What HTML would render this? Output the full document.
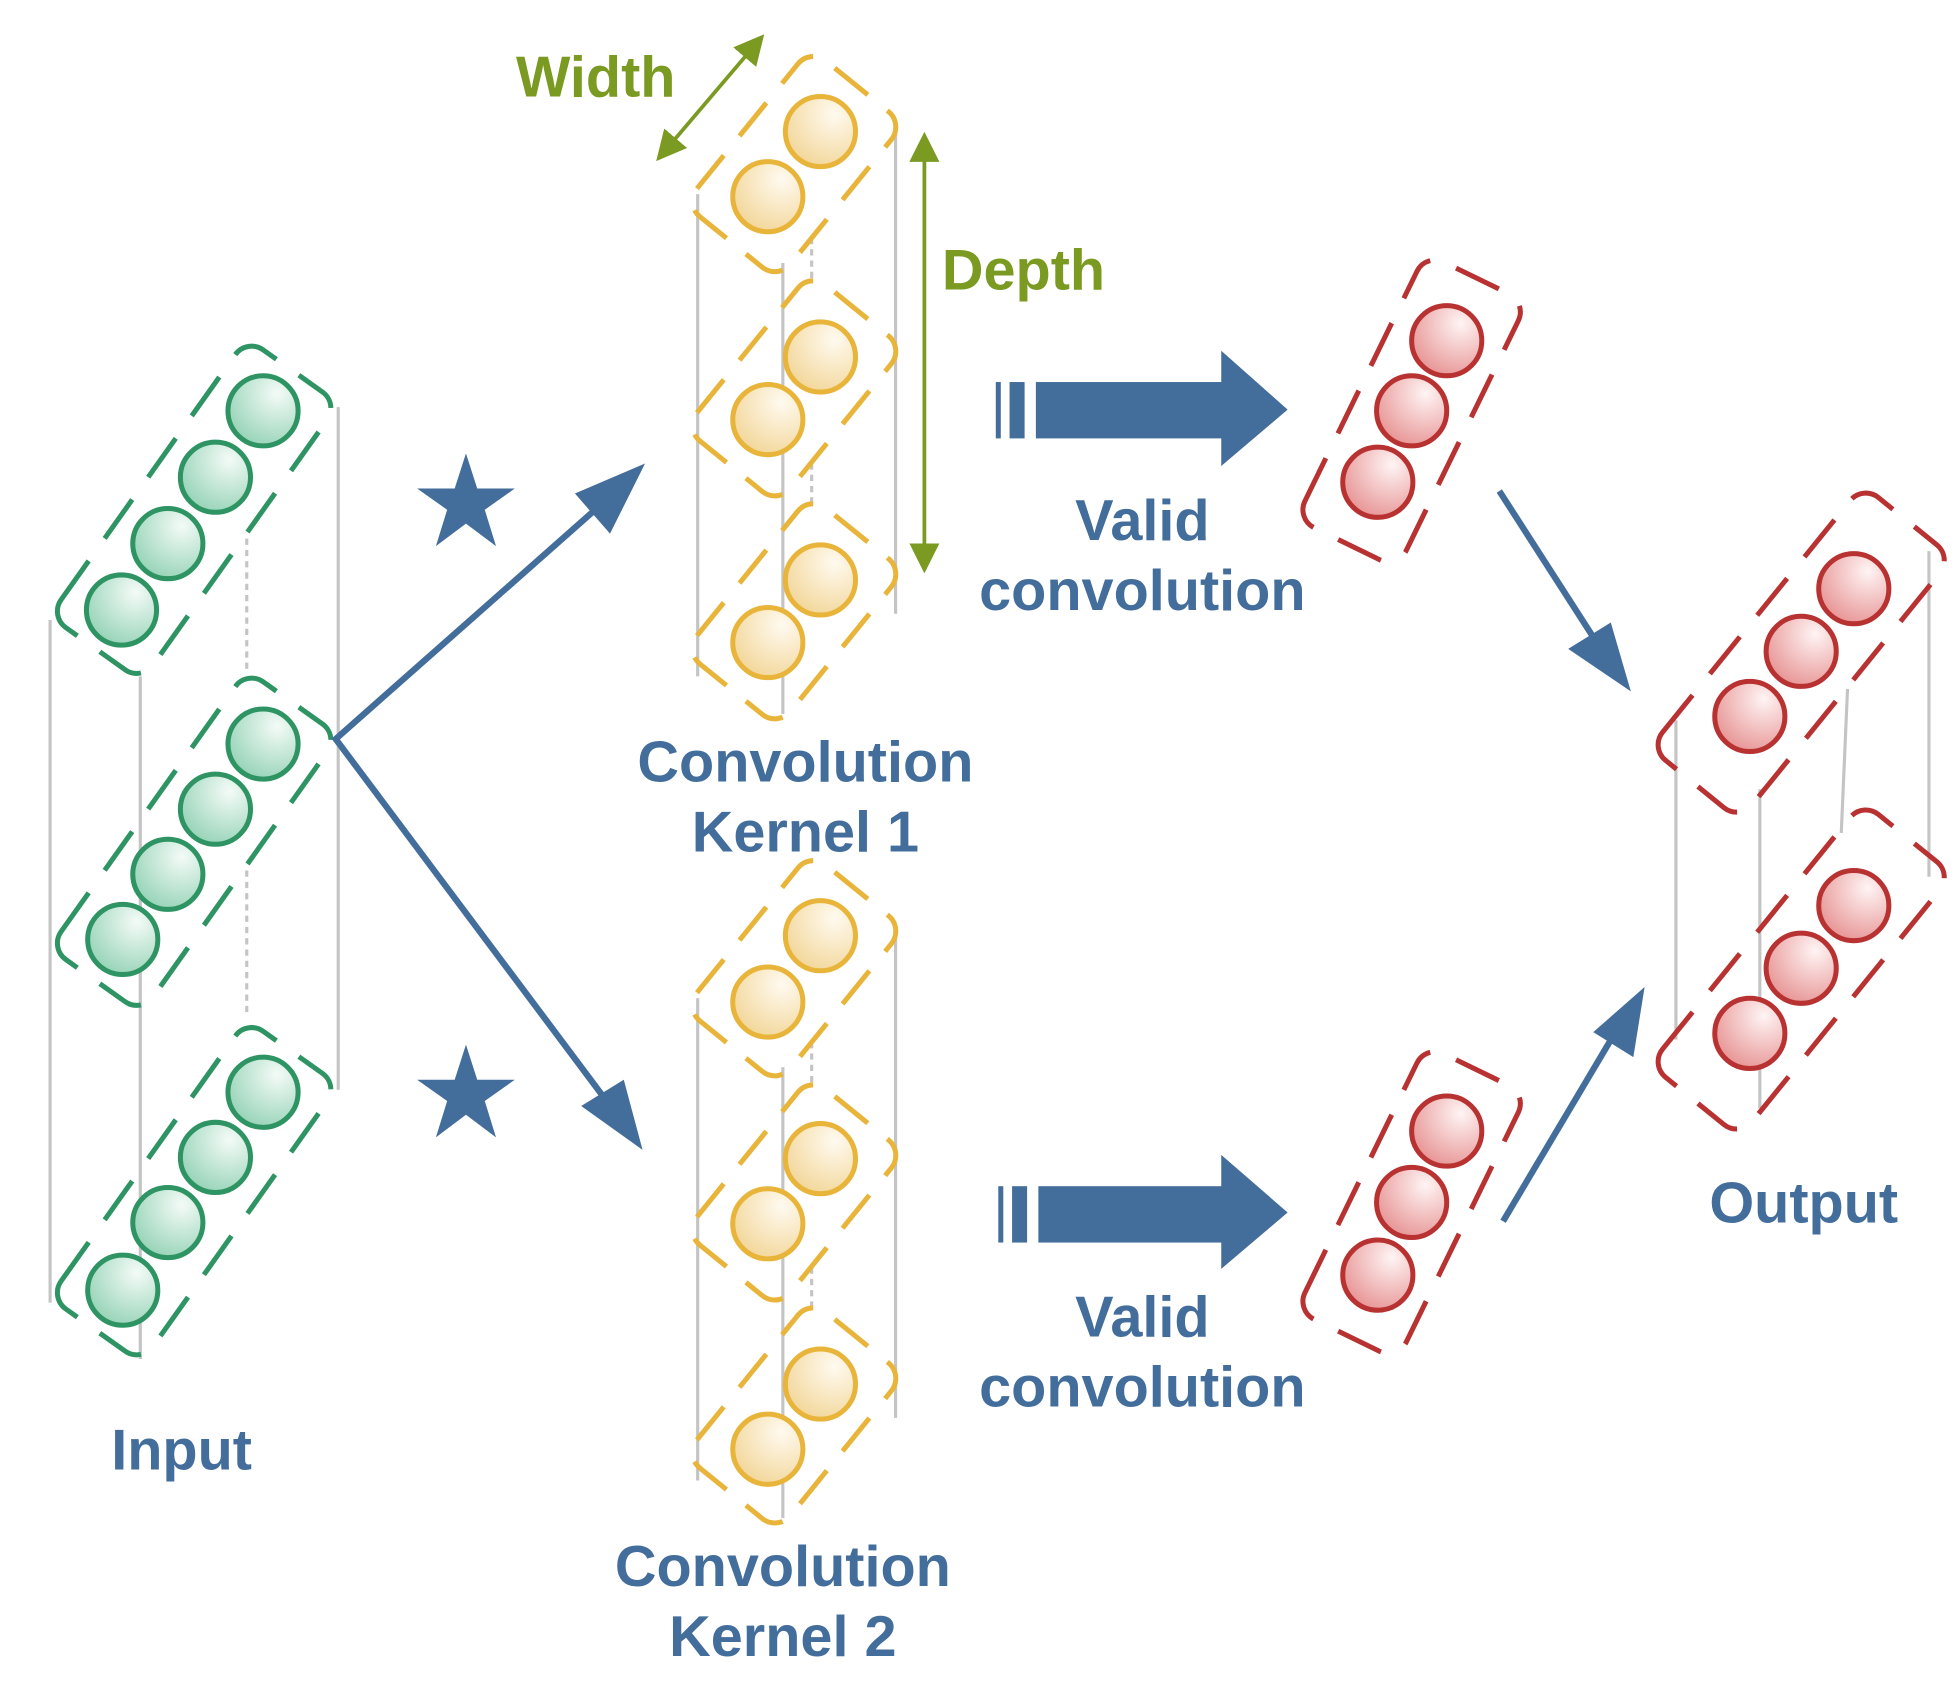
<!DOCTYPE html>
<html><head><meta charset="utf-8"><style>
html,body{margin:0;padding:0;background:#fff;}
svg{display:block;}
text{font-family:"Liberation Sans",sans-serif;font-weight:bold;}
</style></head><body>
<svg width="1954" height="1699" viewBox="0 0 1560 1356.4" preserveAspectRatio="none" xmlns="http://www.w3.org/2000/svg">
<defs>
<radialGradient id="gg" cx="0.7" cy="0.25" r="0.9"><stop offset="0" stop-color="#f4fbf7"/><stop offset="1" stop-color="#8ccfb0"/></radialGradient>
<radialGradient id="yg" cx="0.7" cy="0.25" r="0.9"><stop offset="0" stop-color="#fffaf0"/><stop offset="1" stop-color="#f1d390"/></radialGradient>
<radialGradient id="rg" cx="0.7" cy="0.25" r="0.9"><stop offset="0" stop-color="#fff4f4"/><stop offset="1" stop-color="#e58a8a"/></radialGradient>
<marker id="ag" viewBox="0 0 10 10" refX="8" refY="5" markerWidth="8" markerHeight="8" orient="auto-start-reverse" markerUnits="strokeWidth"><path d="M0,0 L10,5 L0,10 z" fill="#7a9a22"/></marker>
</defs>

<g stroke="#c4c4c4" stroke-width="2.5" fill="none">
<line x1="40" y1="495" x2="40" y2="1040"/><line x1="112" y1="540" x2="112" y2="1085"/><line x1="270" y1="325" x2="270" y2="870"/>
<line x1="197" y1="430" x2="197" y2="535" stroke-dasharray="5,4"/><line x1="197" y1="695" x2="197" y2="810" stroke-dasharray="5,4"/>
<line x1="557" y1="155" x2="557" y2="540"/><line x1="625" y1="210" x2="625" y2="570"/><line x1="715" y1="105" x2="715" y2="490"/>
<line x1="557" y1="797" x2="557" y2="1182"/><line x1="625" y1="852" x2="625" y2="1212"/><line x1="715" y1="747" x2="715" y2="1132"/>
<line x1="648" y1="190" x2="648" y2="225" stroke-dasharray="5,4"/><line x1="648" y1="370" x2="648" y2="405" stroke-dasharray="5,4"/>
<line x1="648" y1="832" x2="648" y2="867" stroke-dasharray="5,4"/><line x1="648" y1="1012" x2="648" y2="1047" stroke-dasharray="5,4"/>
<line x1="1338" y1="575" x2="1338" y2="830"/><line x1="1405" y1="630" x2="1405" y2="885"/><line x1="1475" y1="550" x2="1470" y2="665"/><line x1="1540" y1="440" x2="1540" y2="700"/>
</g>

<g stroke="#2e9463" stroke-width="4">
<g fill="none" stroke-dasharray="38,22">
<rect x="-136" y="-45" width="272" height="90" rx="16" transform="translate(155,407) rotate(-54.6)"/>
<rect x="-136" y="-45" width="272" height="90" rx="16" transform="translate(155,672) rotate(-54.6)"/>
<rect x="-136" y="-45" width="272" height="90" rx="16" transform="translate(155,951) rotate(-54.6)"/>
</g>
<g fill="url(#gg)">
<circle cx="210" cy="328" r="28"/><circle cx="172" cy="381" r="28"/><circle cx="134" cy="434" r="28"/><circle cx="97" cy="487" r="28"/>
<circle cx="210" cy="594" r="28"/><circle cx="172" cy="646" r="28"/><circle cx="134" cy="698" r="28"/><circle cx="98" cy="750" r="28"/>
<circle cx="210" cy="872" r="28"/><circle cx="172" cy="924" r="28"/><circle cx="134" cy="976" r="28"/><circle cx="98" cy="1030" r="28"/>
</g></g>

<g stroke="#e8b53a" stroke-width="4">
<g fill="none" stroke-dasharray="34,20">
<rect x="-80" y="-48" width="160" height="96" rx="16" transform="translate(634,131) rotate(-51)"/>
<rect x="-80" y="-48" width="160" height="96" rx="16" transform="translate(634,310) rotate(-51)"/>
<rect x="-80" y="-48" width="160" height="96" rx="16" transform="translate(634,488) rotate(-51)"/>
<rect x="-80" y="-48" width="160" height="96" rx="16" transform="translate(634,773) rotate(-51)"/>
<rect x="-80" y="-48" width="160" height="96" rx="16" transform="translate(634,952) rotate(-51)"/>
<rect x="-80" y="-48" width="160" height="96" rx="16" transform="translate(634,1130) rotate(-51)"/>
</g>
<g fill="url(#yg)">
<circle cx="655" cy="105" r="28"/><circle cx="613" cy="157" r="28"/>
<circle cx="655" cy="285" r="28"/><circle cx="613" cy="335" r="28"/>
<circle cx="655" cy="463" r="28"/><circle cx="613" cy="513" r="28"/>
<circle cx="655" cy="747" r="28"/><circle cx="613" cy="800" r="28"/>
<circle cx="655" cy="925" r="28"/><circle cx="613" cy="977" r="28"/>
<circle cx="655" cy="1105" r="28"/><circle cx="613" cy="1157" r="28"/>
</g></g>

<g stroke="#b83232" stroke-width="4">
<g fill="none" stroke-dasharray="38,22">
<rect x="-118" y="-45" width="236" height="90" rx="16" transform="translate(1127,328) rotate(-64)"/>
<rect x="-118" y="-45" width="236" height="90" rx="16" transform="translate(1127,960) rotate(-64)"/>
<rect x="-135" y="-46" width="270" height="92" rx="16" transform="translate(1438,521) rotate(-51)"/>
<rect x="-135" y="-46" width="270" height="92" rx="16" transform="translate(1438,774) rotate(-51)"/>
</g>
<g fill="url(#rg)">
<circle cx="1155" cy="272" r="28"/><circle cx="1127" cy="328" r="28"/><circle cx="1100" cy="385" r="28"/>
<circle cx="1155" cy="903" r="28"/><circle cx="1127" cy="960" r="28"/><circle cx="1100" cy="1018" r="28"/>
<circle cx="1480" cy="470" r="28"/><circle cx="1438" cy="520" r="28"/><circle cx="1397" cy="572" r="28"/>
<circle cx="1480" cy="723" r="28"/><circle cx="1438" cy="773" r="28"/><circle cx="1397" cy="825" r="28"/>
</g></g>

<g stroke="#7a9a22" stroke-width="3">
<line x1="527" y1="125" x2="607" y2="31" marker-start="url(#ag)" marker-end="url(#ag)"/>
<line x1="738" y1="110" x2="738" y2="453" marker-start="url(#ag)" marker-end="url(#ag)"/>
</g>
<text x="412" y="77" font-size="46" fill="#7a9a22">Width</text>
<text x="752" y="231" font-size="46" fill="#7a9a22">Depth</text>

<g stroke="#436d9b" stroke-width="5" fill="none">
<polyline points="500,385 268,590 500,900"/>
</g>
<path d="M515,370 L487,426 L459,394 z" fill="#436d9b"/>
<path d="M513,918 L464,883 L498,862 z" fill="#436d9b"/>
<line x1="1197" y1="392" x2="1287" y2="532" stroke="#436d9b" stroke-width="5"/>
<path d="M1302,552 L1252,518 L1286,497 z" fill="#436d9b"/>
<line x1="1200" y1="975" x2="1298" y2="810" stroke="#436d9b" stroke-width="5"/>
<path d="M1313,788 L1304,844 L1272,824 z" fill="#436d9b"/>

<g fill="#436d9b">
<path d="M372,362 L381,390 L411,390 L387,407 L396,436 L372,418 L348,436 L357,407 L333,390 L363,390 z"/>
<path d="M372,834 L381,862 L411,862 L387,879 L396,908 L372,890 L348,908 L357,879 L333,862 L363,862 z"/>
</g>

<g fill="#436d9b">
<rect x="795" y="305" width="4" height="45"/><rect x="806" y="305" width="12" height="45"/><rect x="827" y="305" width="150" height="45"/>
<path d="M975,280 L1028,327 L975,372 z"/>
<rect x="797" y="947" width="4" height="45"/><rect x="808" y="947" width="12" height="45"/><rect x="829" y="947" width="148" height="45"/>
<path d="M975,922 L1028,968 L975,1013 z"/>
</g>

<g fill="#436d9b" font-size="46" text-anchor="middle">
<text x="912" y="431">Valid</text><text x="912" y="487">convolution</text>
<text x="912" y="1067">Valid</text><text x="912" y="1123">convolution</text>
<text x="643" y="624">Convolution</text><text x="643" y="680">Kernel 1</text>
<text x="625" y="1266">Convolution</text><text x="625" y="1322">Kernel 2</text>
<text x="145" y="1173">Input</text>
<text x="1440" y="976">Output</text>
</g>
</svg>
</body></html>
